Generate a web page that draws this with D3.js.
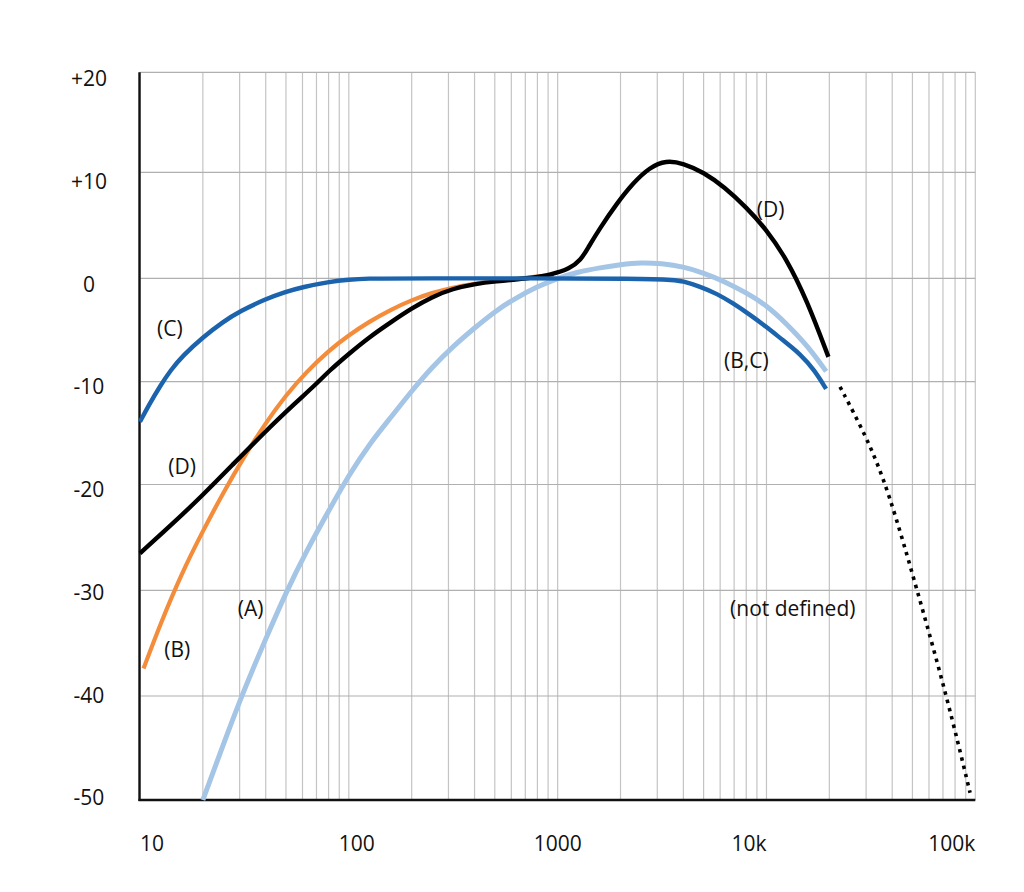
<!DOCTYPE html>
<html>
<head>
<meta charset="utf-8">
<script src="https://cdn.jsdelivr.net/npm/d3@7"></script>
<style>
  body { margin: 0; background: #fff; }
  text { font-family: "Open Sans", sans-serif; font-size: 21px; fill: #111; }
</style>
</head>
<body>
<svg id="chart" width="1024" height="892"></svg>
<script>
// tick values and their labels
var freqTicks = [10, 100, 1000, 10000, 100000];
var freqLabels = ["10", "100", "1000", "10k", "100k"];
var dbTicks = [20, 10, 0, -10, -20, -30, -40, -50];
var dbLabels = ["+20", "+10", "0", "-10", "-20", "-30", "-40", "-50"];

// weighting curves: [frequency Hz, dB]
var curveA = [[20, -50], [25, -44.7], [31.5, -39.4], [40, -34.6], [50, -30.2], [63, -26.2],
  [80, -22.5], [100, -19.1], [125, -16.1], [160, -13.4], [200, -10.9], [250, -8.6],
  [315, -6.6], [400, -4.8], [500, -3.2], [630, -1.9], [800, -0.8], [1000, 0], [1250, 0.6],
  [1600, 1.0], [2000, 1.3], [2500, 1.5], [3150, 1.4], [4000, 1.1], [5000, 0.5],
  [6300, -0.3], [8000, -1.4], [10000, -2.6], [12500, -4.4], [16000, -6.7], [19300, -9.0]];

var curveB = [[10.4, -37.4], [12.5, -33.2], [16, -28.2], [20, -24.4], [25, -20.8],
  [31.5, -17.3], [40, -14.0], [50, -11.3], [63, -9.0], [80, -7.0], [100, -5.5],
  [125, -4.2], [160, -3.0], [200, -2.1], [250, -1.4], [315, -0.9], [400, -0.5],
  [500, -0.25], [630, -0.05], [800, 0.15], [960, 0.35]];

var curveC = [[10, -13.9], [11, -12.3], [12.5, -10.4], [14, -8.9], [16, -7.5], [20, -5.7],
  [25, -4.2], [30, -3.2], [40, -2.0], [50, -1.3], [60, -0.85], [80, -0.35], [100, -0.12],
  [125, -0.02], [160, 0], [3400, 0], [4000, -0.3], [4800, -0.8], [5800, -1.5],
  [6900, -2.4], [8300, -3.5], [10000, -4.7], [12000, -6.0], [14500, -7.3], [17000, -8.9],
  [19300, -10.7]];

var curveD = [[10, -26.5], [14, -23.9], [20, -21.0], [28, -18.0], [40, -14.8], [56, -12.0],
  [70, -10.2], [80, -9.0], [100, -7.3], [125, -5.7], [160, -4.2], [200, -2.9], [250, -1.8],
  [315, -1.0], [400, -0.55], [500, -0.3], [700, -0.05], [940, 0.35], [1140, 0.9],
  [1290, 1.7], [1400, 2.9], [1590, 4.7], [1910, 7.0], [2300, 9.0], [2760, 10.5],
  [3300, 11.2], [4000, 10.9], [5000, 10.0], [6300, 8.6], [8000, 6.7], [10000, 4.6],
  [12500, 1.8], [15600, -2.1], [19800, -7.6]];

// the part above 20 kHz that is not defined
var curveUndefined = [[22500, -10.5], [30200, -15.4], [38300, -20.5], [52700, -30],
  [73000, -40], [94400, -49.3]];

// annotations in data units: [text, frequency, dB]
var notes = [["(C)", 12.06, -4.9], ["(D)", 13.66, -18.3], ["(A)", 29.4, -31.7],
  ["(B)", 13.07, -35.6], ["(D)", 8985, 6.5], ["(B,C)", 6266, -8.0],
  ["(not defined)", 6694, -31.7]];

var svg = d3.select("#chart");

var x = d3.scaleLog().domain([10, 100000]).range([140, 975.3]);
// the printed grid is not quite evenly spaced, so map each tick to its line
var y = d3.scaleLinear()
  .domain(dbTicks)
  .range([72.3, 172.3, 278.3, 381.7, 484.5, 590.3, 696, 800]);
// the tick labels sit on an even spacing of their own
var yLabel = d3.scaleLinear().domain([20, -50]).range([79, 798]);

var plotTop = y(20), plotBottom = y(-50), plotLeft = x(10), plotRight = x(100000);

// grid
svg.append("g").selectAll("line")
  .data(x.ticks())
  .enter().append("line")
    .attr("x1", function(d) { return x(d); })
    .attr("x2", function(d) { return x(d); })
    .attr("y1", plotTop)
    .attr("y2", plotBottom)
    .attr("stroke", "#c4c4c4")
    .attr("stroke-width", 1.2);

svg.append("g").selectAll("line")
  .data(dbTicks)
  .enter().append("line")
    .attr("x1", plotLeft)
    .attr("x2", plotRight)
    .attr("y1", function(d) { return y(d); })
    .attr("y2", function(d) { return y(d); })
    .attr("stroke", "#b0b0b0")
    .attr("stroke-width", 1.2);

// axes
svg.append("line")
  .attr("x1", plotLeft - 0.5).attr("x2", plotLeft - 0.5)
  .attr("y1", plotTop).attr("y2", plotBottom + 1)
  .attr("stroke", "#111").attr("stroke-width", 2.4);
svg.append("line")
  .attr("x1", plotLeft - 1.5).attr("x2", plotRight)
  .attr("y1", plotBottom).attr("y2", plotBottom)
  .attr("stroke", "#111").attr("stroke-width", 2.4);

// tick labels
svg.append("g").selectAll("text")
  .data(dbTicks)
  .enter().append("text")
    .attr("x", 89)
    .attr("y", function(d) { return yLabel(d); })
    .attr("dy", "0.35em")
    .attr("text-anchor", "middle")
    .text(function(d, i) { return dbLabels[i]; });

svg.append("g").selectAll("text")
  .data(freqTicks)
  .enter().append("text")
    .attr("x", function(d, i) { return x(d) + (i === 1 ? 8 : 0); })
    .attr("y", 844)
    .attr("dy", "0.35em")
    .attr("text-anchor", function(d, i) {
      return i === 0 ? "start" : (d >= 10000 ? "end" : "middle");
    })
    .text(function(d, i) { return freqLabels[i]; });

// curves
var line = d3.line()
  .x(function(d) { return x(d[0]); })
  .y(function(d) { return y(d[1]); })
  .curve(d3.curveBasis);

var series = [
  { data: curveA, color: "#a4c5e5", width: 5 },
  { data: curveB, color: "#f48d3b", width: 4.2 },
  { data: curveD, color: "#000000", width: 4.4 },
  { data: curveC, color: "#1b63ac", width: 4.4 }
];

svg.append("g").selectAll("path")
  .data(series)
  .enter().append("path")
    .attr("d", function(d) { return line(d.data); })
    .attr("fill", "none")
    .attr("stroke", function(d) { return d.color; })
    .attr("stroke-width", function(d) { return d.width; });

svg.append("path")
  .attr("d", line(curveUndefined))
  .attr("fill", "none")
  .attr("stroke", "#000")
  .attr("stroke-width", 3.6)
  .attr("stroke-dasharray", "3.5,5");

// annotations
svg.append("g").selectAll("text")
  .data(notes)
  .enter().append("text")
    .attr("x", function(d) { return x(d[1]); })
    .attr("y", function(d) { return y(d[2]); })
    .attr("dy", "0.35em")
    .text(function(d) { return d[0]; });
</script>
</body>
</html>
